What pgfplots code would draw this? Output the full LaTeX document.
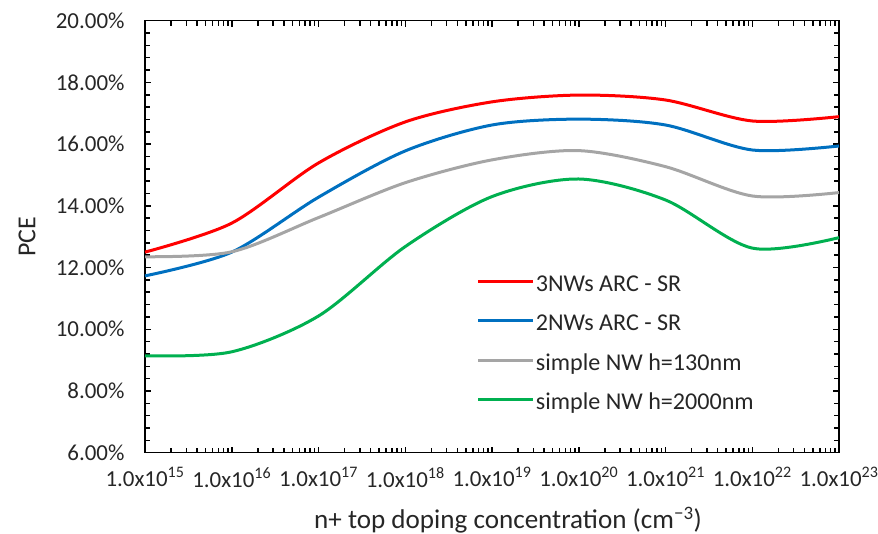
\documentclass[border=0pt]{standalone}
\usepackage{fontspec}
\setmainfont{Carlito}
\usepackage{pgfplots}
\pgfplotsset{compat=1.18}
\definecolor{xlred}{RGB}{255,0,0}
\definecolor{xlblue}{RGB}{0,112,192}
\definecolor{xlgray}{RGB}{165,165,165}
\definecolor{xlgreen}{RGB}{0,176,80}
\definecolor{txt}{RGB}{38,38,38}

\begin{document}
\begin{tikzpicture}
% frame of the 878x534 image, axis box at (0,0)-(694,432)
\path[use as bounding box] (-145bp,-81.3bp) rectangle (733bp,452.7bp);
\begin{axis}[
  at={(0,0)}, anchor=south west,
  scale only axis,
  width=694bp, height=432bp,
  xmode=log,
  xmin=1e15, xmax=1e23,
  ymin=6, ymax=20,
  xtick={1e15,1e16,1e17,1e18,1e19,1e20,1e21,1e22,1e23},
  xticklabels={1.0x10\textsuperscript{15},1.0x10\textsuperscript{16},1.0x10\textsuperscript{17},
    1.0x10\textsuperscript{18},1.0x10\textsuperscript{19},1.0x10\textsuperscript{20},
    1.0x10\textsuperscript{21},1.0x10\textsuperscript{22},1.0x10\textsuperscript{23}},
  ytick={6,8,10,12,14,16,18,20},
  minor y tick num=4,
  yticklabel={\pgfmathprintnumber[fixed,fixed zerofill,precision=2]{\tick}\%},
  /pgf/number format/assume math mode=true,
  tick align=inside,
  major tick length=6bp, minor tick length=5bp,
  every tick/.style={black, line width=1.5bp},
  axis line style={black, line width=1.5bp},
  tick label style={font=\fontsize{23}{26}\selectfont, text=txt},
  yticklabel style={xshift=-17bp},
  xticklabel style={yshift=-11bp},
  legend style={
    at={(rel axis cs:0.478,0.2498)}, anchor=west,
    draw=none, fill=none, inner sep=0pt,
    font=\fontsize{24.2}{27}\selectfont, text=txt,
    nodes={inner sep=1bp, text height=17bp, text depth=6bp},
    row sep=14.5bp,
  },
  legend cell align=left,
  legend image code/.code={\draw[#1, line width=3bp] (0bp,4.5bp) -- (55bp,4.5bp);},
  clip=false,
]
\addplot[xlred, line width=3bp, smooth, tension=0.5] coordinates {
  (1e15,12.50) (1e16,13.44) (1e17,15.39) (1e18,16.72) (1e19,17.37)
  (1e20,17.59) (1e21,17.43) (1e22,16.75) (1e23,16.89)
};
\addlegendentry{3NWs ARC - SR}
\addplot[xlblue, line width=3bp, smooth, tension=0.5] coordinates {
  (1e15,11.73) (1e16,12.50) (1e17,14.28) (1e18,15.78) (1e19,16.62)
  (1e20,16.81) (1e21,16.62) (1e22,15.81) (1e23,15.94)
};
\addlegendentry{2NWs ARC - SR}
\addplot[xlgray, line width=3bp, smooth, tension=0.5] coordinates {
  (1e15,12.35) (1e16,12.51) (1e17,13.62) (1e18,14.75) (1e19,15.49)
  (1e20,15.79) (1e21,15.27) (1e22,14.32) (1e23,14.43)
};
\addlegendentry{simple NW h=130nm}
\addplot[xlgreen, line width=3bp, smooth, tension=0.5] coordinates {
  (1e15,9.14) (1e16,9.27) (1e17,10.43) (1e18,12.68) (1e19,14.30)
  (1e20,14.87) (1e21,14.19) (1e22,12.63) (1e23,12.97)
};
\addlegendentry{simple NW h=2000nm}
\end{axis}
\node[font=\fontsize{26}{30}\selectfont, text=txt, rotate=90] at (-118bp,216bp) {PCE};
\node[font=\fontsize{27.2}{31}\selectfont, text=txt] at (363bp,-67bp) {n+ top doping concentration (cm\textsuperscript{−3})};
\end{tikzpicture}
\end{document}
